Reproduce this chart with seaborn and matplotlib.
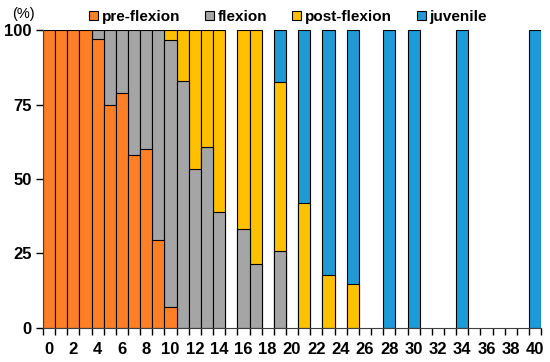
import numpy as np
import pandas as pd
import seaborn as sns
import matplotlib.pyplot as plt
from matplotlib.patches import Patch

# days with samples and stage composition (%)
days = [0, 1, 2, 3, 4, 5, 6, 7, 8, 9, 10, 11, 12, 13, 14, 16, 17, 19, 21, 23, 25, 28, 30, 34, 40]
pre_flexion = [100, 100, 100, 100, 97, 75, 79, 58, 60, 29.5, 7, 0, 0, 0, 0, 0, 0, 0, 0, 0, 0, 0, 0, 0, 0]
flexion = [0, 0, 0, 0, 3, 25, 21, 42, 40, 70.5, 89.6, 82.9, 53.2, 60.8, 39, 33.2, 21.5, 25.8, 0, 0, 0, 0, 0, 0, 0]
post_flexion = [0, 0, 0, 0, 0, 0, 0, 0, 0, 0, 3.4, 17.1, 46.8, 39.2, 61, 66.8, 78.5, 56.9, 42, 17.9, 14.7, 0, 0, 0, 0]
juvenile = [0, 0, 0, 0, 0, 0, 0, 0, 0, 0, 0, 0, 0, 0, 0, 0, 0, 17.3, 58, 82.1, 85.3, 100, 100, 100, 100]
all_days = list(range(0, 41))

stages = ['pre-flexion', 'flexion', 'post-flexion', 'juvenile']
colors = ['#FF7F27', '#A5A5A5', '#FFC000', '#1E9BD7']

df = pd.DataFrame({'day': days, 'pre-flexion': pre_flexion, 'flexion': flexion,
                   'post-flexion': post_flexion, 'juvenile': juvenile})
cum = df[stages].cumsum(axis=1)

plt.rcParams['font.family'] = ['Liberation Sans', 'DejaVu Sans']
fig = plt.figure(figsize=(5.5, 3.62), dpi=100)
ax = fig.add_axes([0.078, 0.094, 0.906, 0.823])

# draw cumulative heights from the top stage down so lower stages sit in front
for stage, col in reversed(list(zip(stages, colors))):
    d = pd.DataFrame({'day': df['day'], 'val': cum[stage]})
    d = d[df[stage] > 0]
    sns.barplot(data=d, x='day', y='val', order=all_days, width=1, color=col,
                edgecolor='black', linewidth=0.8, saturation=1, ax=ax)

ax.set_xlim(-0.5, 40.5)
ax.set_ylim(0, 100)
ax.set_xticks(range(0, 41, 2))
ax.set_xticklabels([str(d) for d in range(0, 41, 2)])
ax.set_xticks(np.arange(-0.5, 41, 1), minor=True)
ax.set_yticks([0, 25, 50, 75, 100])
ax.tick_params(axis='x', which='major', length=0, pad=10, labelsize=12)
ax.tick_params(axis='x', which='minor', length=5, width=1, direction='out')
ax.tick_params(axis='y', length=5, width=1, direction='out', pad=3, labelsize=12)
for lab in ax.get_xticklabels() + ax.get_yticklabels():
    lab.set_fontweight('bold')
ax.set_xlabel('')
ax.set_ylabel('')
for s in ['top', 'right']:
    ax.spines[s].set_visible(False)
ax.spines['left'].set_color('#404040')
ax.spines['bottom'].set_color('#404040')

handles = [Patch(facecolor=c, edgecolor='black', linewidth=0.8) for c in colors]
leg = fig.legend(handles, stages, loc='center', bbox_to_anchor=(0.524, 0.953), ncol=4,
                 frameon=False, handlelength=0.6, handleheight=0.6, handletextpad=0.25,
                 columnspacing=1.6, prop={'weight': 'bold', 'size': 11})
fig.text(0.022, 0.96, '(%)', fontsize=10.5, va='center')

fig.savefig('out.png', dpi=100)
